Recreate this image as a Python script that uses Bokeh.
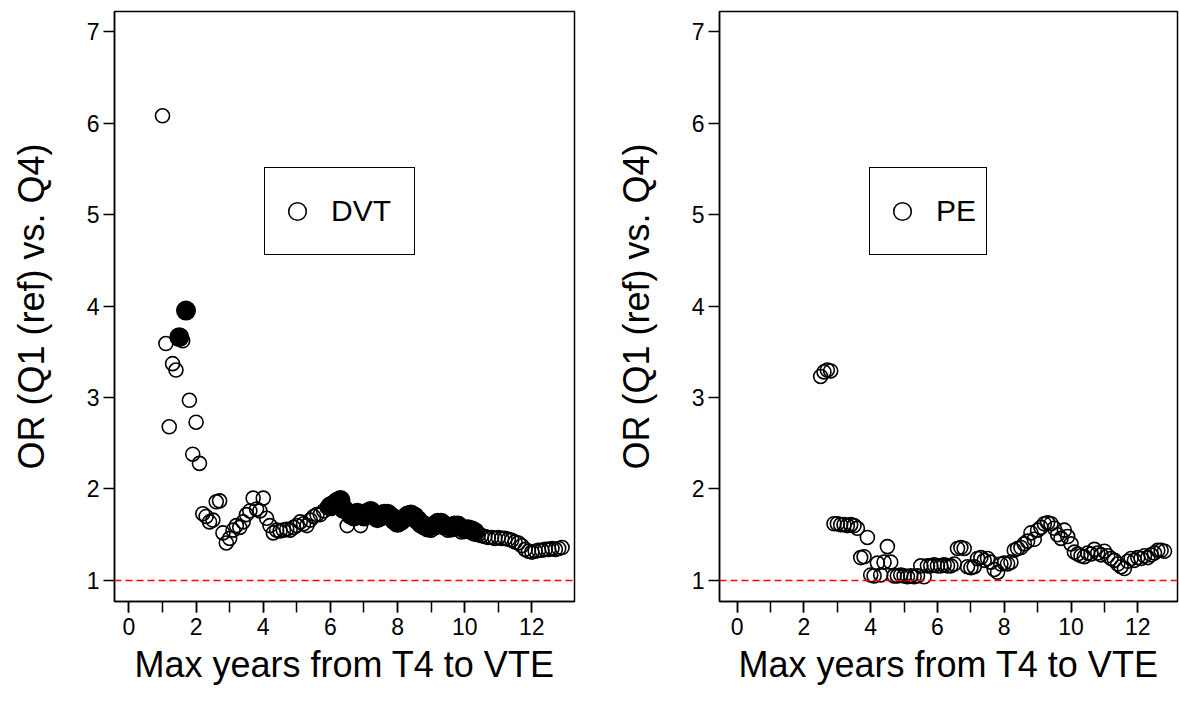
from bokeh.plotting import figure
from bokeh.layouts import row
from bokeh.models import Range1d, FixedTicker, Span, Legend, LegendItem
from bokeh.embed import file_html
from bokeh.resources import INLINE

# ---------------- data ----------------
dvt_years = [1.0, 1.1, 1.2, 1.3, 1.4, 1.5, 1.6, 1.7, 1.8, 1.9,
             2.0, 2.1, 2.2, 2.3, 2.4, 2.5, 2.6, 2.7, 2.8, 2.9,
             3.0, 3.1, 3.2, 3.3, 3.4, 3.5, 3.6, 3.7, 3.8, 3.9,
             4.0, 4.1, 4.2, 4.3, 4.4, 4.5, 4.6, 4.7, 4.8, 4.9,
             5.0, 5.1, 5.2, 5.3, 5.4, 5.5, 5.6, 5.7, 5.8, 5.9,
             6.0, 6.1, 6.2, 6.3, 6.4, 6.5, 6.6, 6.7, 6.8, 6.9,
             7.0, 7.1, 7.2, 7.3, 7.4, 7.5, 7.6, 7.7, 7.8, 7.9,
             8.0, 8.1, 8.2, 8.3, 8.4, 8.5, 8.6, 8.7, 8.8, 8.9,
             9.0, 9.1, 9.2, 9.3, 9.4, 9.5, 9.6, 9.7, 9.8, 9.9,
             10.0, 10.1, 10.2, 10.3, 10.4, 10.5, 10.6, 10.7, 10.8, 10.9,
             11.0, 11.1, 11.2, 11.3, 11.4, 11.5, 11.6, 11.7, 11.8, 11.9,
             12.0, 12.1, 12.2, 12.3, 12.4, 12.5, 12.6, 12.7, 12.8, 12.9]
dvt_or = [6.08, 3.59, 2.68, 3.37, 3.30, 3.66, 3.62, 3.95, 2.97, 2.38,
          2.73, 2.28, 1.73, 1.70, 1.64, 1.66, 1.86, 1.87, 1.52, 1.41,
          1.46, 1.55, 1.60, 1.58, 1.64, 1.72, 1.76, 1.90, 1.78, 1.76,
          1.90, 1.68, 1.60, 1.52, 1.55, 1.54, 1.55, 1.56, 1.55, 1.58,
          1.60, 1.64, 1.62, 1.60, 1.66, 1.70, 1.72, 1.72, 1.76, 1.80,
          1.81, 1.83, 1.86, 1.88, 1.78, 1.60, 1.72, 1.70, 1.74, 1.60,
          1.70, 1.74, 1.76, 1.72, 1.68, 1.70, 1.73, 1.73, 1.70, 1.66,
          1.63, 1.65, 1.68, 1.71, 1.72, 1.70, 1.66, 1.62, 1.60, 1.58,
          1.55, 1.60, 1.63, 1.63, 1.60, 1.55, 1.58, 1.60, 1.60, 1.53,
          1.56, 1.56, 1.55, 1.53, 1.50, 1.49, 1.48, 1.47, 1.47, 1.46,
          1.47, 1.46, 1.46, 1.45, 1.44, 1.42, 1.41, 1.38, 1.34, 1.32,
          1.31, 1.32, 1.33, 1.33, 1.34, 1.34, 1.35, 1.34, 1.35, 1.36]
# 1 = significant (filled marker), 0 = open marker
dvt_sig = [0, 0, 0, 0, 0, 1, 0, 1, 0, 0,
           0, 0, 0, 0, 0, 0, 0, 0, 0, 0,
           0, 0, 0, 0, 0, 0, 0, 0, 0, 0,
           0, 0, 0, 0, 0, 0, 0, 0, 0, 0,
           0, 0, 0, 0, 0, 0, 0, 0, 0, 0,
           1, 1, 1, 1, 1, 0, 1, 1, 1, 0,
           1, 1, 1, 1, 1, 1, 1, 1, 1, 1,
           1, 1, 1, 1, 1, 1, 1, 1, 1, 1,
           0, 1, 1, 1, 1, 0, 1, 1, 1, 0,
           1, 1, 1, 1, 0, 0, 0, 0, 0, 0,
           0, 0, 0, 0, 0, 0, 0, 0, 0, 0,
           0, 0, 0, 0, 0, 0, 0, 0, 0, 0]

pe_years = [2.5, 2.6, 2.7, 2.8, 2.9,
            3.0, 3.1, 3.2, 3.3, 3.4, 3.5, 3.6, 3.7, 3.8, 3.9,
            4.0, 4.1, 4.2, 4.3, 4.4, 4.5, 4.6, 4.7, 4.8, 4.9,
            5.0, 5.1, 5.2, 5.3, 5.4, 5.5, 5.6, 5.7, 5.8, 5.9,
            6.0, 6.1, 6.2, 6.3, 6.4, 6.5, 6.6, 6.7, 6.8, 6.9,
            7.0, 7.1, 7.2, 7.3, 7.4, 7.5, 7.6, 7.7, 7.8, 7.9,
            8.0, 8.1, 8.2, 8.3, 8.4, 8.5, 8.6, 8.7, 8.8, 8.9,
            9.0, 9.1, 9.2, 9.3, 9.4, 9.5, 9.6, 9.7, 9.8, 9.9,
            10.0, 10.1, 10.2, 10.3, 10.4, 10.5, 10.6, 10.7, 10.8, 10.9,
            11.0, 11.1, 11.2, 11.3, 11.4, 11.5, 11.6, 11.7, 11.8, 11.9,
            12.0, 12.1, 12.2, 12.3, 12.4, 12.5, 12.6, 12.7, 12.8]
pe_or = [3.23, 3.28, 3.30, 3.29, 1.62,
         1.62, 1.61, 1.61, 1.60, 1.61, 1.60, 1.57, 1.25, 1.26, 1.47,
         1.06, 1.05, 1.19, 1.06, 1.20, 1.37, 1.20, 1.05, 1.05, 1.06,
         1.05, 1.04, 1.05, 1.04, 1.05, 1.16, 1.04, 1.16, 1.16, 1.17,
         1.16, 1.16, 1.17, 1.16, 1.16, 1.18, 1.35, 1.36, 1.35, 1.15,
         1.14, 1.15, 1.24, 1.25, 1.22, 1.24, 1.20, 1.12, 1.09, 1.18,
         1.19, 1.18, 1.20, 1.33, 1.35, 1.36, 1.40, 1.43, 1.52, 1.45,
         1.55, 1.58, 1.62, 1.63, 1.62, 1.57, 1.50, 1.46, 1.55, 1.48,
         1.40, 1.31, 1.29, 1.27, 1.26, 1.30, 1.29, 1.34, 1.30, 1.28,
         1.32, 1.27, 1.24, 1.22, 1.18, 1.15, 1.13, 1.21, 1.24, 1.22,
         1.25, 1.24, 1.27, 1.25, 1.28, 1.30, 1.33, 1.33, 1.32]
pe_sig = [0] * len(pe_or)

x_major_ticks = [0, 2, 4, 6, 8, 10, 12]
x_minor_ticks = [0, 1, 2, 3, 4, 5, 6, 7, 8, 9, 10, 11, 12]
y_ticks = [1, 2, 3, 4, 5, 6, 7]
x_title = "Max years from T4 to VTE"
y_title = "OR (Q1 (ref) vs. Q4)"

FONT = "Liberation Sans"


def panel(width, border_left, border_right, x_lo, x_hi, label, years, ors, sig):
    p = figure(width=width, height=706, output_backend="svg", toolbar_location=None,
               title=None, x_range=Range1d(x_lo, x_hi), y_range=Range1d(0.77, 7.22),
               min_border_left=border_left, min_border_right=border_right,
               min_border_top=11, min_border_bottom=105)
    p.xgrid.visible = False
    p.ygrid.visible = False
    p.background_fill_color = "white"
    p.border_fill_color = "white"
    p.outline_line_color = "black"
    p.outline_line_width = 1.5
    p.outline_line_alpha = 1.0

    p.xaxis.ticker = FixedTicker(ticks=x_major_ticks, minor_ticks=x_minor_ticks)
    p.yaxis.ticker = FixedTicker(ticks=y_ticks, minor_ticks=[])
    for ax in (p.xaxis[0], p.yaxis[0]):
        ax.axis_line_color = "black"
        ax.axis_line_width = 1.5
        ax.major_tick_line_color = "black"
        ax.major_tick_line_width = 1.5
        ax.minor_tick_line_color = "black"
        ax.minor_tick_line_width = 1.5
        ax.major_tick_in = 0
        ax.major_tick_out = 11
        ax.minor_tick_in = 0
        ax.minor_tick_out = 11
        ax.major_label_text_font = FONT
        ax.major_label_text_font_size = "23px"
        ax.major_label_text_color = "black"
        ax.axis_label_text_font = FONT
        ax.axis_label_text_font_size = "36px"
        ax.axis_label_text_font_style = "normal"
        ax.axis_label_text_color = "black"
    p.yaxis.minor_tick_line_color = None
    p.xaxis.axis_label = x_title
    p.yaxis.axis_label = y_title
    p.xaxis.major_label_standoff = 5
    p.xaxis.axis_label_standoff = 6
    p.yaxis.major_label_standoff = 4
    p.yaxis.axis_label_standoff = 32

    p.add_layout(Span(location=1, dimension="width", line_color="red",
                      line_dash="7 4", line_width=1.5))

    ox = [x for x, s in zip(years, sig) if s == 0]
    oy = [y for y, s in zip(ors, sig) if s == 0]
    fx = [x for x, s in zip(years, sig) if s == 1]
    fy = [y for y, s in zip(ors, sig) if s == 1]
    r_open = p.scatter(ox, oy, marker="circle", size=14, fill_color=None,
                       line_color="black", line_width=1.6)
    if fx:
        p.scatter(fx, fy, marker="circle", size=18.5, fill_color="black",
                  line_color="black", line_width=1.5)

    leg = Legend(items=[LegendItem(label=label, renderers=[r_open])],
                 location=(150, 346), orientation="vertical",
                 padding=10, spacing=0, margin=0,
                 glyph_width=44, glyph_height=66, label_standoff=12,
                 label_width=73 if label == "DVT" else 40, label_height=30,
                 label_text_font=FONT, label_text_font_size="30px",
                 label_text_color="black",
                 border_line_color="black", border_line_width=1.5,
                 border_line_alpha=1.0,
                 background_fill_color="white", background_fill_alpha=1.0)
    p.add_layout(leg)
    return p


p1 = panel(600, 114, 26, -0.43, 13.27, "DVT", dvt_years, dvt_or, dvt_sig)
p2 = panel(579, 119, 2, -0.53, 13.19, "PE", pe_years, pe_or, pe_sig)

layout = row(p1, p2)
open("out.html", "w").write(file_html(layout, INLINE))
